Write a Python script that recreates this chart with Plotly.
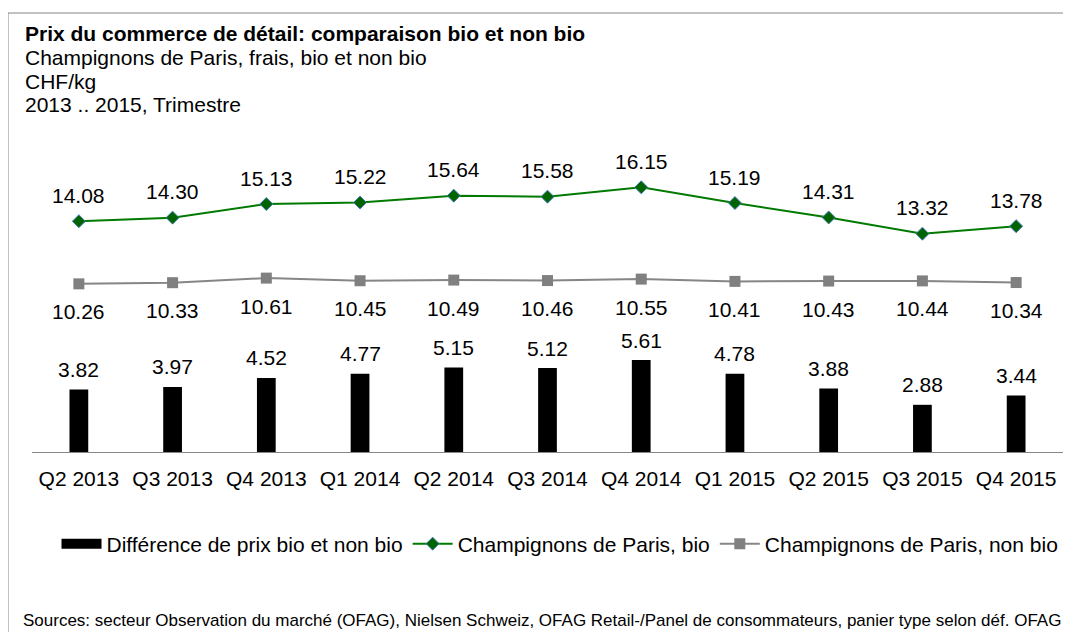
import plotly.graph_objects as go

categories = ["Q2 2013", "Q3 2013", "Q4 2013", "Q1 2014", "Q2 2014", "Q3 2014",
              "Q4 2014", "Q1 2015", "Q2 2015", "Q3 2015", "Q4 2015"]
bio = [14.08, 14.30, 15.13, 15.22, 15.64, 15.58, 16.15, 15.19, 14.31, 13.32, 13.78]
non_bio = [10.26, 10.33, 10.61, 10.45, 10.49, 10.46, 10.55, 10.41, 10.43, 10.44, 10.34]
difference = [3.82, 3.97, 4.52, 4.77, 5.15, 5.12, 5.61, 4.78, 3.88, 2.88, 3.44]

title_lines = ["<b>Prix du commerce de détail: comparaison bio et non bio</b>",
               "Champignons de Paris, frais, bio et non bio",
               "CHF/kg",
               "2013 .. 2015, Trimestre"]
source_text = ("Sources: secteur Observation du marché (OFAG), Nielsen Schweiz, "
               "OFAG Retail-/Panel de consommateurs, panier type selon déf. OFAG")

W, H = 1071, 632
OFF = 8  # page body margin offset
# plot area in page pixels: x 32..1063, y 157..452
L, R, T, B = 32 - OFF, W - 1063 + OFF, 157 - OFF, H - 452 + OFF
PW, PH = W - L - R, H - T - B
FONT = "Liberation Sans, Arial, sans-serif"
FS = 21


def px_x(x):
    return (x - OFF - L) / PW


def px_y(y):
    return (H - B - (y - OFF)) / PH


fig = go.Figure()
fig.add_trace(go.Bar(x=categories, y=difference, name="Différence de prix bio et non bio",
                     marker=dict(color="black", line=dict(width=0)), width=0.2,
                     showlegend=False, legendgroup="diff"))
# legend proxy: wide black rectangle like the reference's bar legend key
fig.add_trace(go.Scatter(x=[None], y=[None], mode="lines", name="Différence de prix bio et non bio",
                         line=dict(color="black", width=10), legendgroup="diff"))
fig.add_trace(go.Scatter(x=categories, y=bio, name="Champignons de Paris, bio",
                         mode="lines+markers",
                         line=dict(color="#007A00", width=2),
                         marker=dict(symbol="diamond", size=10, color="#006400",
                                     line=dict(color="#4A7EBB", width=1))))
fig.add_trace(go.Scatter(x=categories, y=non_bio, name="Champignons de Paris, non bio",
                         mode="lines+markers",
                         line=dict(color="#868686", width=2),
                         marker=dict(symbol="square", size=11, color="#808080",
                                     line=dict(width=0))))

annotations = []
for c, v in zip(categories, bio):
    annotations.append(dict(x=c, y=v, text=f"{v:.2f}", showarrow=False, yshift=26,
                            yanchor="middle", font=dict(size=FS, color="black", family=FONT)))
for c, v in zip(categories, non_bio):
    annotations.append(dict(x=c, y=v, text=f"{v:.2f}", showarrow=False, yshift=-28,
                            yanchor="middle", font=dict(size=FS, color="black", family=FONT)))
for c, v in zip(categories, difference):
    annotations.append(dict(x=c, y=v, text=f"{v:.2f}", showarrow=False, yshift=20,
                            yanchor="middle", font=dict(size=FS, color="black", family=FONT)))

title_y = [34, 57, 81, 105]
for i, (txt, yy) in enumerate(zip(title_lines, title_y)):
    annotations.append(dict(xref="paper", yref="paper", x=px_x(23), y=px_y(yy),
                            xanchor="left", yanchor="middle", text=txt, showarrow=False,
                            font=dict(size=FS, color="black", family=FONT)))
annotations.append(dict(xref="paper", yref="paper", x=px_x(21), y=px_y(620),
                        xanchor="left", yanchor="middle", text=source_text, showarrow=False,
                        font=dict(size=17, color="black", family=FONT)))

fig.update_layout(
    width=W, height=H,
    margin=dict(l=L, r=R, t=T, b=B, pad=0, autoexpand=False),
    paper_bgcolor="white", plot_bgcolor="white",
    font=dict(family=FONT, size=FS, color="black"),
    showlegend=True,
    legend=dict(orientation="h", x=px_x(560), xanchor="center",
                y=px_y(544), yanchor="middle", itemwidth=40,
                font=dict(size=FS, color="black", family=FONT),
                itemclick=False, bgcolor="rgba(0,0,0,0)", tracegroupgap=0),
    annotations=annotations,
    shapes=[dict(type="rect", xref="paper", yref="paper",
                 x0=px_x(8), x1=px_x(W + 20), y0=px_y(H + 20), y1=px_y(13),
                 line=dict(color="#868686", width=1), fillcolor="rgba(0,0,0,0)",
                 layer="below")],
)
fig.update_xaxes(type="category", showline=True, linecolor="#868686", linewidth=1,
                 showgrid=False, zeroline=False, ticks="outside", ticklen=8,
                 tickcolor="rgba(0,0,0,0)", tickangle=0,
                 tickfont=dict(size=FS, color="black", family=FONT),
                 range=[-0.5, len(categories) - 0.5])
fig.update_yaxes(range=[0, 18], visible=False, showgrid=False, zeroline=False)

fig.write_html("out.html")
